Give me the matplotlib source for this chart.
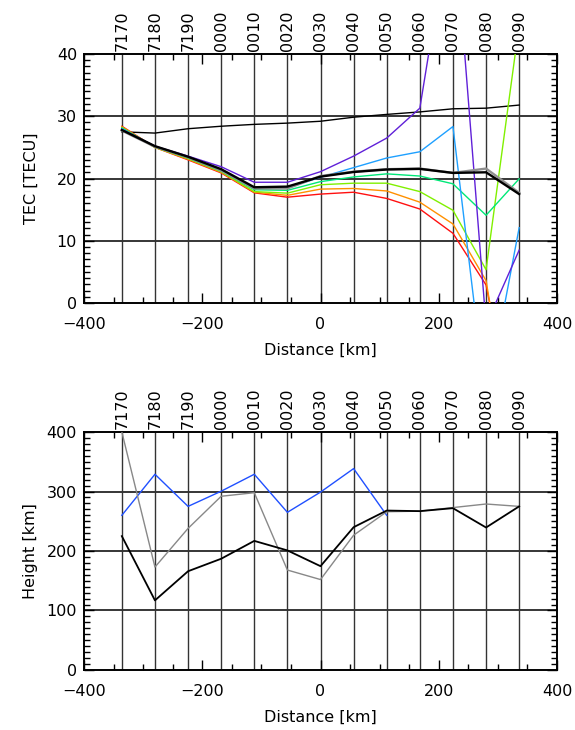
import matplotlib
matplotlib.use("Agg")
import matplotlib.pyplot as plt
from matplotlib.ticker import MultipleLocator
import matplotlib.transforms as mtransforms

# ── Data ──
stations = ["7170", "7180", "7190", "0000", "0010", "0020", "0030",
            "0040", "0050", "0060", "0070", "0080", "0090"]
distance = [-336, -280, -224, -168, -112, -56, 0, 56, 112, 168, 224, 280, 336]

tec_red = [28.4, 25.0, 23.0, 20.9, 17.7, 17.0, 17.5, 17.8, 16.8, 15.1, 11.2, 2.9, -24.0]
tec_orange = [28.3, 25.0, 23.1, 21.0, 17.8, 17.3, 18.3, 18.4, 18.0, 16.2, 12.7, 3.6, -28.0]
tec_yellowgreen = [28.2, 25.0, 23.2, 21.1, 17.9, 17.65, 19.0, 19.25, 19.25, 17.9, 14.9, 5.35, 44.7]
tec_green = [28.1, 25.1, 23.3, 21.2, 18.2, 18.1, 19.5, 20.25, 20.75, 20.4, 19.15, 14.1, 19.95]
tec_blue = [28.0, 25.1, 23.4, 21.4, 18.5, 18.5, 20.2, 21.75, 23.3, 24.3, 28.35, -16.0, 12.1]
tec_purple = [27.9, 25.2, 23.6, 21.9, 19.4, 19.4, 21.1, 23.6, 26.5, 31.3, 64.0, -3.5, 8.5]
tec_gray = [27.7, 25.1, 23.4, 21.3, 18.4, 18.4, 20.4, 21.1, 21.5, 21.6, 20.9, 21.6, 17.7]
tec_black = [27.8, 25.2, 23.5, 21.5, 18.6, 18.7, 20.3, 21.05, 21.45, 21.55, 20.9, 21.0, 17.5]
tec_top = [27.5, 27.3, 28.0, 28.4, 28.7, 28.9, 29.2, 29.85, 30.3, 30.7, 31.2, 31.3, 31.8]

height_blue = [260, 329, 275, 300.5, 329, 265, 299, 338.5, 260]
height_gray = [400, 173, 238, 292, 298, 168, 152, 226.5, 266, 267, 273, 279, 275]
height_black = [225, 117, 166, 187, 217, 201, 174.5, 240, 268, 267, 272, 239.5, 275]

FS = 11.5


def style_axes(ax, ymax, ymajor, yminor, hlines):
    ax.set_xlim(-400, 400)
    ax.set_ylim(0, ymax)
    ax.xaxis.set_major_locator(MultipleLocator(200))
    ax.xaxis.set_minor_locator(MultipleLocator(50))
    ax.yaxis.set_major_locator(MultipleLocator(ymajor))
    ax.yaxis.set_minor_locator(MultipleLocator(yminor))
    ax.tick_params(which="both", direction="in", top=True, right=True,
                   labelsize=FS, width=1, color="black")
    ax.tick_params(which="major", length=7)
    ax.tick_params(which="minor", length=4)
    ax.tick_params(axis="x", which="major", pad=10)
    ax.tick_params(axis="y", which="major", pad=5)
    for sp in ax.spines.values():
        sp.set_linewidth(1.4)
    for y in hlines:
        ax.axhline(y, color="black", lw=1.1, zorder=1)
    for d in distance:
        ax.axvline(d, color="#333333", lw=1.0, zorder=1)
    trans = mtransforms.blended_transform_factory(ax.transData, ax.transAxes)
    for d, s in zip(distance, stations):
        ax.text(d, 1.014, s, transform=trans, rotation=90, ha="center",
                va="bottom", fontsize=FS, clip_on=False)
    ax.set_xlabel("Distance [km]", fontsize=FS, labelpad=8)


fig = plt.figure(figsize=(5.75, 7.3), dpi=100)
ax1 = fig.add_axes([0.1461, 0.5849, 0.8226, 0.3411])
ax2 = fig.add_axes([0.1461, 0.0822, 0.8226, 0.3260])

# ── TEC panel ──
style_axes(ax1, 40, 10, 1, [10, 20, 30])
ax1.plot(distance, tec_top, color="black", lw=1.0, zorder=3)
for vals, col in [(tec_red, "#ff1010"), (tec_orange, "#ff9000"),
                  (tec_yellowgreen, "#80f000"), (tec_green, "#00e878"),
                  (tec_blue, "#1ea0ff"), (tec_purple, "#6020d8")]:
    ax1.plot(distance, vals, color=col, lw=1.0, zorder=3)
ax1.plot(distance, tec_gray, color="#909090", lw=1.7, zorder=4)
ax1.plot(distance, tec_black, color="black", lw=1.7, zorder=5)
ax1.set_ylabel("TEC [TECU]", fontsize=FS, labelpad=13)

# ── Height panel ──
style_axes(ax2, 400, 100, 10, [100, 200, 300])
ax2.plot(distance[:len(height_blue)], height_blue, color="#2050ff", lw=1.0, zorder=3)
ax2.plot(distance, height_gray, color="#888888", lw=1.0, zorder=3)
ax2.plot(distance, height_black, color="black", lw=1.3, zorder=4)
ax2.set_ylabel("Height [km]", fontsize=FS, labelpad=6)

fig.savefig("out.png", dpi=100)
